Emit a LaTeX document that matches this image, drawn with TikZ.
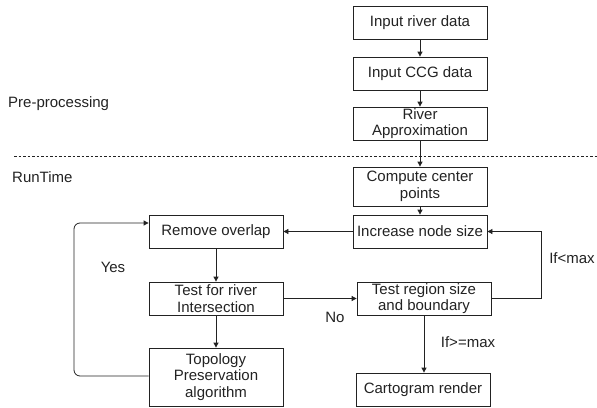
\documentclass[tikz,border=0pt]{standalone}
\usepackage{fontspec}
\setmainfont{Liberation Sans}
\usetikzlibrary{arrows.meta}
\definecolor{ink}{HTML}{222222}
\tikzset{
  box/.style={draw=ink, line width=0.8pt, minimum width=134pt, minimum height=33pt, inner sep=0pt, align=center, text=ink, font=\fontsize{15}{16.5}\selectfont},
  conn/.style={draw=ink, line width=0.8pt, -{Triangle[length=5pt,width=5pt]}},
  lbl/.style={text=ink, font=\fontsize{15}{16.5}\selectfont, inner sep=0pt}
}
\begin{document}
\begin{tikzpicture}[x=1pt,y=-1pt]
\useasboundingbox (0,0) rectangle (597,407);
\node[box] (in1) at (420,23) {Input river data};
\node[box] (in2) at (420,73.5) {Input CCG data};
\node[box] (ra) at (420,123.5) {River\\Approximation};
\node[box, minimum height=39pt] (ccp) at (420,186.5) {Compute center\\points};
\node[box] (ins) at (420,231.5) {Increase node size};
\node[box] (ro) at (216,231.5) {Remove overlap};
\node[box] (tri) at (216,298.5) {Test for river\\Intersection};
\node[box, minimum height=58pt] (topo) at (216,377) {Topology\\Preservation\\algorithm};
\node[box] (trs) at (424,298.5) {Test region size\\and boundary};
\node[box] (cr) at (423,389.5) {Cartogram render};

\node[lbl, anchor=west] (pre) at (8,104) {Pre-processing};
\node[lbl, anchor=west] (rt) at (12,177) {RunTime};
\node[lbl] (yes) at (113,267) {Yes};
\node[lbl] (no) at (335,317) {No};
\node[lbl] (lt) at (572,258) {If{<}max};
\node[lbl] (ge) at (468,342) {If{>}=max};

\coordinate (dl) at (14,156);
\coordinate (dr) at (597,156);
\draw[draw=ink, line width=0.7pt, dash pattern=on 2.5pt off 2pt] (dl) -- (dr);

\draw[conn] (in1) -- (in2);
\draw[conn] (in2) -- (ra);
\draw[conn] (ra) -- (ccp);
\draw[conn] (ccp) -- (ins);
\draw[conn] (ins) -- (ro);
\draw[conn] (ro) -- (tri);
\draw[conn] (tri) -- (topo);
\draw[conn] (tri) -- (trs);
\draw[conn] (trs.south) -- (trs.south |- cr.north);
\draw[conn] (trs.east) -- ++(50,0) |- (ins.east);
\draw[conn, rounded corners=6pt] (topo.west |- 0,376) -| (74,223) -- (ro.west |- 0,223);
\end{tikzpicture}
\end{document}
